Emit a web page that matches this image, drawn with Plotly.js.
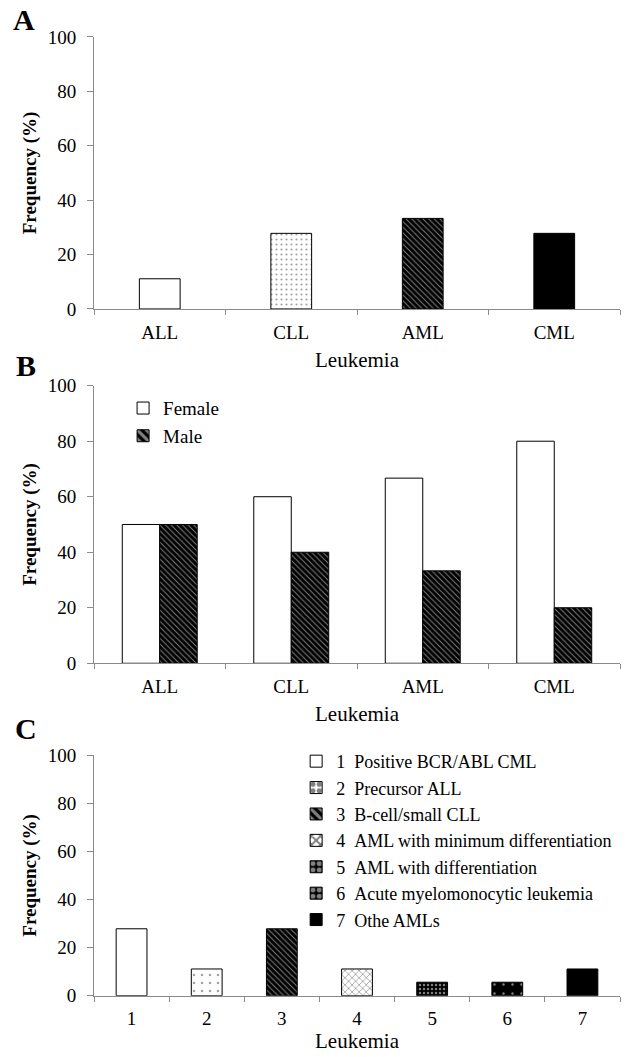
<!DOCTYPE html>
<html>
<head>
<meta charset="utf-8">
<script src="https://cdn.plot.ly/plotly-3.0.1.min.js"></script>
<style>
  body { margin: 0; background: #fff; }
  #chart { width: 630px; height: 1057px; }
</style>
</head>
<body>
<div id="chart"></div>
<script>
// data
const leukemiaTypes = ["ALL", "CLL", "AML", "CML"];
const overallFreq = [11.1, 27.8, 33.3, 27.8];
const femaleFreq = [50, 60, 66.7, 80];
const maleFreq = [50, 40, 33.3, 20];
const subtypeIds = ["1", "2", "3", "4", "5", "6", "7"];
const subtypeNames = ["Positive BCR/ABL CML", "Precursor ALL", "B-cell/small CLL",
  "AML with minimum differentiation", "AML with differentiation",
  "Acute myelomonocytic leukemia", "Othe AMLs"];
const subtypeFreq = [27.8, 11.1, 27.8, 11.1, 5.6, 5.6, 11.1];
const yTicks = [0, 20, 40, 60, 80, 100];

// fill styles (black & white hatching like the print figure)
// bg = bar colour, fg = hatch colour (overlay mode)
const fills = {
  white:   { bg: "#ffffff", shape: "",   fg: "#000000", size: 6, solidity: 0.3 },
  dots:    { bg: "#ffffff", shape: ".",  fg: "#000000", size: 5, solidity: 0.15 },
  sparse:  { bg: "#ffffff", shape: ".",  fg: "#000000", size: 8, solidity: 0.08 },
  stripes: { bg: "#000000", shape: "\\", fg: "#ffffff", size: 4, solidity: 0.25 },
  cross:   { bg: "#ffffff", shape: "x",  fg: "#000000", size: 5, solidity: 0.3 },
  dense:   { bg: "#000000", shape: ".",  fg: "#ffffff", size: 4, solidity: 0.3 },
  blackdot:{ bg: "#000000", shape: ".",  fg: "#ffffff", size: 9, solidity: 0.06 },
  black:   { bg: "#000000", shape: "",   fg: "#ffffff", size: 6, solidity: 0.3 }
};

function patternOf(list) {
  return {
    color: list.map(f => f.bg),
    line: { color: "#000", width: 1 },
    pattern: {
      fillmode: "overlay",
      shape: list.map(f => f.shape),
      fgcolor: list.map(f => f.fg),
      size: list.map(f => f.size),
      solidity: list.map(f => f.solidity)
    }
  };
}

const serif = "Liberation Serif";
const axisGray = "#8a8a8a";

const traces = [];

// A
traces.push({
  type: "bar", x: leukemiaTypes, y: overallFreq, xaxis: "x", yaxis: "y",
  width: 0.31, showlegend: false,
  marker: patternOf([fills.white, fills.dots, fills.stripes, fills.black])
});

// B
traces.push({
  type: "bar", name: "Female", x: leukemiaTypes, y: femaleFreq, xaxis: "x2", yaxis: "y2",
  legend: "legend", marker: patternOf(leukemiaTypes.map(() => fills.white))
});
traces.push({
  type: "bar", name: "Male", x: leukemiaTypes, y: maleFreq, xaxis: "x2", yaxis: "y2",
  legend: "legend", marker: patternOf(leukemiaTypes.map(() => fills.stripes))
});

// C
const subtypeFills = [fills.white, fills.sparse, fills.stripes, fills.cross, fills.dense, fills.blackdot, fills.black];
subtypeIds.forEach((id, i) => {
  traces.push({
    type: "bar", name: id + "\u00a0\u00a0" + subtypeNames[i],
    x: [id], y: [subtypeFreq[i]], xaxis: "x3", yaxis: "y3",
    width: 0.41, offsetgroup: "c", legend: "legend2",
    marker: patternOf([subtypeFills[i]])
  });
});

function xAxis(anchor, standoff) {
  return {
    anchor: anchor, domain: [0, 1], type: "category",
    tickson: "boundaries", ticks: "outside", ticklen: 5, tickcolor: axisGray,
    ticklabelstandoff: 6,
    showline: true, linecolor: axisGray, linewidth: 1, showgrid: false,
    tickfont: { family: serif, size: 19, color: "#000" },
    title: { text: "Leukemia", font: { family: serif, size: 21, color: "#000" }, standoff: standoff },
    automargin: false, fixedrange: true
  };
}
function yAxis(anchor, domain) {
  return {
    anchor: anchor, domain: domain, range: [0, 100], tickvals: yTicks,
    ticks: "outside", ticklen: 6, tickcolor: axisGray, ticklabelstandoff: 7,
    showline: true, linecolor: axisGray, linewidth: 1, showgrid: false, zeroline: false,
    tickfont: { family: serif, size: 19, color: "#000" },
    title: { text: "<b>Frequency (%)</b>", font: { family: serif, size: 19, color: "#000" }, standoff: 6 },
    automargin: false, fixedrange: true
  };
}

const panelLetter = (t, x, y) => ({
  text: "<b>" + t + "</b>", xref: "paper", yref: "paper", x: x, y: y,
  xanchor: "center", yanchor: "middle", showarrow: false,
  font: { family: serif, size: 30, color: "#000" }
});

const layout = {
  width: 630, height: 1057,
  margin: { l: 94, r: 10, t: 0, b: 0 },
  paper_bgcolor: "#fff", plot_bgcolor: "#fff",
  barmode: "group", bargap: 0.43, bargroupgap: 0,
  font: { family: serif, color: "#000" },
  xaxis: xAxis("y", 10),
  yaxis: yAxis("x", [0.7077, 0.9650]),
  xaxis2: xAxis("y2", 10),
  yaxis2: yAxis("x2", [0.3725, 0.6351]),
  xaxis3: xAxis("y3", 3),
  yaxis3: yAxis("x3", [0.0580, 0.2857]),
  legend: {
    x: 0.0553, y: 0.6318, xanchor: "left", yanchor: "top",
    bgcolor: "rgba(0,0,0,0)", borderwidth: 0,
    font: { family: serif, size: 19, color: "#000" }
  },
  legend2: {
    x: 0.3843, y: 0.2971, xanchor: "left", yanchor: "top",
    bgcolor: "rgba(0,0,0,0)", borderwidth: 0,
    font: { family: serif, size: 18, color: "#000" }
  },
  annotations: [
    panelLetter("A", -0.133, 0.982),
    panelLetter("B", -0.129, 0.654),
    panelLetter("C", -0.129, 0.311)
  ],
  showlegend: true
};

Plotly.newPlot("chart", traces, layout, { displayModeBar: false, staticPlot: true });
</script>
</body>
</html>
